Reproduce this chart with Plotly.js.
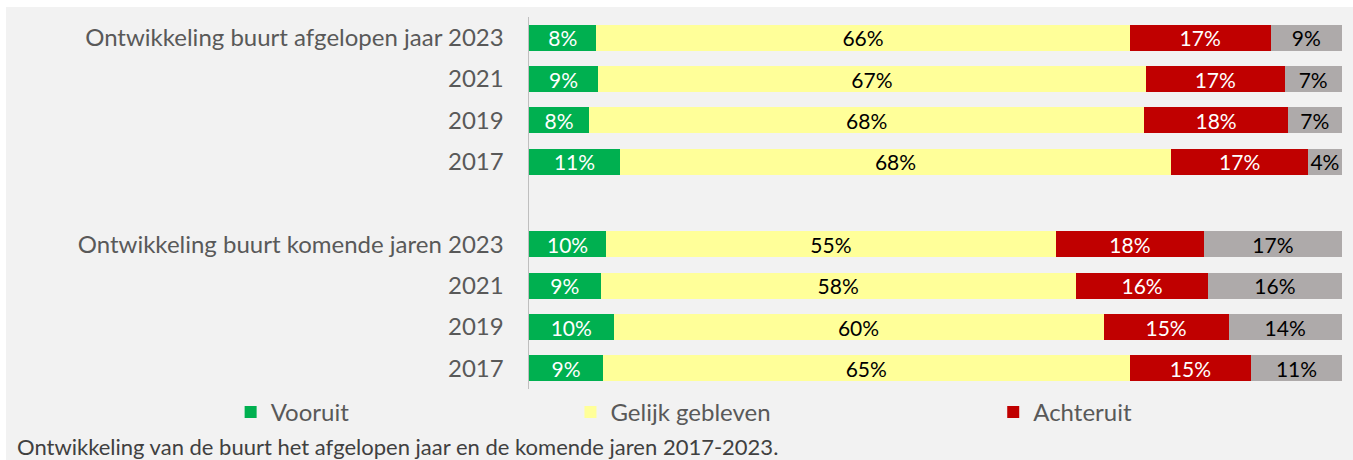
<!DOCTYPE html>
<html>
<head>
<meta charset="utf-8">
<script src="https://cdn.plot.ly/plotly-3.0.1.min.js"></script>
<style>
  html, body { margin: 0; padding: 0; background: #ffffff; }
  #chart { position: absolute; left: 6px; top: 7px; width: 1347px; height: 453px; }
</style>
</head>
<body>
<div id="chart"></div>
<script>
// Row labels (top to bottom); the empty row is the gap between both groups
const rowLabels = [
  "Ontwikkeling buurt afgelopen jaar 2023", "2021", "2019", "2017",
  "",
  "Ontwikkeling buurt komende jaren 2023", "2021", "2019", "2017"
];
const rowPos = [0, 1, 2, 3, 5, 6, 7, 8]; // rows that carry bars

const seriesNames = ["Vooruit", "Gelijk gebleven", "Achteruit", "Weet niet"];

// Bar widths (percent)
const vooruit        = [8.3, 8.5, 7.4, 11.2, 9.5, 8.8, 10.4, 9.1];
const gelijk         = [65.6, 67.4, 68.3, 67.8, 55.3, 58.5, 60.3, 64.8];
const achteruit      = [17.4, 17.1, 17.7, 16.9, 18.3, 16.3, 15.4, 15.0];
const weetNiet       = [8.7, 7.0, 6.6, 4.1, 16.9, 16.4, 13.9, 11.1];

// Printed labels (percent)
const vooruitLbl     = [8, 9, 8, 11, 10, 9, 10, 9];
const gelijkLbl      = [66, 67, 68, 68, 55, 58, 60, 65];
const achteruitLbl   = [17, 17, 18, 17, 18, 16, 15, 15];
const weetNietLbl    = [9, 7, 7, 4, 17, 16, 14, 11];

const colors = ["#00b050", "#ffff99", "#c00000", "#aeaaaa"];
const textColors = ["#ffffff", "#000000", "#ffffff", "#000000"];
const legendIds = ["legend", "legend2", "legend3", "legend4"];

const FONT = "Lato, 'Open Sans', sans-serif";

const vals = [vooruit, gelijk, achteruit, weetNiet];
const lbls = [vooruitLbl, gelijkLbl, achteruitLbl, weetNietLbl];

const traces = seriesNames.map((name, i) => ({
  type: "bar",
  orientation: "h",
  name: name,
  x: vals[i],
  y: rowPos,
  text: lbls[i].map(v => v + "%"),
  textposition: "inside",
  insidetextanchor: "middle",
  textangle: 0,
  constraintext: "none",
  cliponaxis: false,
  textfont: { family: FONT, size: 21, color: textColors[i] },
  marker: { color: colors[i], line: { width: 0 } },
  width: 0.63,
  hoverinfo: "skip",
  legend: legendIds[i],
  showlegend: i < 3
}));

const legendBase = {
  orientation: "h",
  bgcolor: "rgba(0,0,0,0)",
  font: { family: FONT, size: 24, color: "#595959" },
  yanchor: "middle",
  y: -0.063,
  xanchor: "left",
  itemwidth: 30
};

const layout = {
  width: 1347,
  height: 453,
  paper_bgcolor: "#f2f2f2",
  plot_bgcolor: "#f2f2f2",
  margin: { l: 523, r: 11, t: 10, b: 71 },
  barmode: "stack",
  showlegend: true,
  legend: Object.assign({}, legendBase, { x: -0.367 }),
  legend2: Object.assign({}, legendBase, { x: 0.051 }),
  legend3: Object.assign({}, legendBase, { x: 0.571 }),
  legend4: Object.assign({}, legendBase, { x: 1.5, visible: false }),
  xaxis: {
    range: [0, 100.05],
    showgrid: false,
    zeroline: false,
    showticklabels: false,
    showline: false,
    fixedrange: true
  },
  yaxis: {
    range: [8.5, -0.5],
    tickmode: "array",
    tickvals: rowLabels.map((_, i) => i),
    ticktext: rowLabels,
    ticks: "",
    ticklabelstandoff: 19,
    tickfont: { family: FONT, size: 24, color: "#595959" },
    showgrid: false,
    zeroline: false,
    showline: true,
    linecolor: "#bfbfbf",
    linewidth: 1.5,
    fixedrange: true
  },
  annotations: [{
    text: "Ontwikkeling van de buurt het afgelopen jaar en de komende jaren 2017-2023.",
    xref: "paper", yref: "paper",
    x: -0.632, y: -0.1546,
    xanchor: "left", yanchor: "middle",
    showarrow: false,
    font: { family: FONT, size: 22, color: "#404040" }
  }]
};

Plotly.newPlot("chart", traces, layout, { displayModeBar: false, staticPlot: true });
</script>
</body>
</html>
